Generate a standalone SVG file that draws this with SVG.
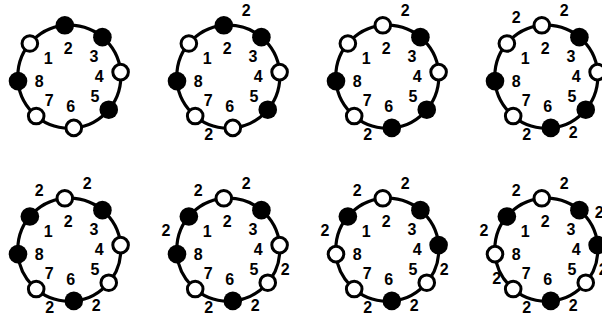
<svg xmlns="http://www.w3.org/2000/svg" width="602" height="320" viewBox="0 0 602 320">
<style>
.ring{fill:none;stroke:#000;stroke-width:3.2}
.f{fill:#000}
.o{fill:#fff;stroke:#000;stroke-width:3}
text{font-family:"Liberation Sans",Arial,sans-serif;font-weight:bold;font-size:16px;text-anchor:middle;fill:#000}
</style>
<rect width="602" height="320" fill="#fff"/>
<g id="connectors">
<circle class="ring" cx="69.3" cy="76.6" r="51.5"/>
<circle class="ring" cx="228.3" cy="76.6" r="51.5"/>
<circle class="ring" cx="387.3" cy="76.6" r="51.5"/>
<circle class="ring" cx="546.3" cy="76.6" r="51.5"/>
<circle class="ring" cx="69.3" cy="249.6" r="51.5"/>
<circle class="ring" cx="228.3" cy="249.6" r="51.5"/>
<circle class="ring" cx="387.3" cy="249.6" r="51.5"/>
<circle class="ring" cx="546.3" cy="249.6" r="51.5"/>
<g id="edge-labels">
<g transform="translate(228.3,76.6)"><text x="18" y="-60.2">2</text><text x="-19.5" y="63.8">2</text></g>
<g transform="translate(387.3,76.6)"><text x="18" y="-60.2">2</text><text x="-19.5" y="63.8">2</text></g>
<g transform="translate(546.3,76.6)"><text x="-30" y="-53.7">2</text><text x="18" y="-60.2">2</text><text x="-19.5" y="63.8">2</text><text x="27" y="61.5">2</text></g>
<g transform="translate(69.3,249.6)"><text x="-30" y="-53.7">2</text><text x="18" y="-60.2">2</text><text x="-19.5" y="63.8">2</text><text x="27" y="61.5">2</text></g>
<g transform="translate(228.3,249.6)"><text x="-30" y="-53.7">2</text><text x="18" y="-60.2">2</text><text x="-62.3" y="-13.8">2</text><text x="57" y="25.3">2</text><text x="-19.5" y="63.8">2</text><text x="27" y="61.5">2</text></g>
<g transform="translate(387.3,249.6)"><text x="-30" y="-53.7">2</text><text x="18" y="-60.2">2</text><text x="-62.3" y="-13.8">2</text><text x="57" y="25.3">2</text><text x="-19.5" y="63.8">2</text><text x="27" y="61.5">2</text></g>
<g transform="translate(546.3,249.6)"><text x="-30" y="-53.7">2</text><text x="18" y="-60.2">2</text><text x="53" y="-31.2">2</text><text x="-62.3" y="-13.8">2</text><text x="-49.6" y="34.5">2</text><text x="57" y="25.3">2</text><text x="-19.5" y="63.8">2</text><text x="27" y="61.5">2</text></g>
</g>
</g>
<defs>
<g id="nums">
<text x="-21" y="-12.5">1</text><text x="-1" y="-23.1">2</text><text x="24.7" y="-14.8">3</text><text x="30" y="5.2">4</text><text x="25.7" y="25.2">5</text><text x="1.4" y="35.2">6</text><text x="-20" y="29.2">7</text><text x="-30" y="10.2">8</text>
</g>
</defs>
<g id="panel1" transform="translate(69.3,76.6)">
<circle class="o" cx="-39.45" cy="-33.10" r="7.8"/><circle class="f" cx="-4.49" cy="-51.30" r="9.3"/><circle class="f" cx="33.10" cy="-39.45" r="9.3"/><circle class="o" cx="51.30" cy="-4.49" r="7.8"/><circle class="f" cx="39.45" cy="33.10" r="9.3"/><circle class="o" cx="4.49" cy="51.30" r="7.8"/><circle class="o" cx="-33.10" cy="39.45" r="7.8"/><circle class="f" cx="-51.30" cy="4.49" r="9.3"/>
<use href="#nums"/>
</g>
<g id="panel2" transform="translate(228.3,76.6)">
<circle class="o" cx="-39.45" cy="-33.10" r="7.8"/><circle class="f" cx="-4.49" cy="-51.30" r="9.3"/><circle class="f" cx="33.10" cy="-39.45" r="9.3"/><circle class="o" cx="51.30" cy="-4.49" r="7.8"/><circle class="f" cx="39.45" cy="33.10" r="9.3"/><circle class="o" cx="4.49" cy="51.30" r="7.8"/><circle class="o" cx="-33.10" cy="39.45" r="7.8"/><circle class="f" cx="-51.30" cy="4.49" r="9.3"/>
<use href="#nums"/>
</g>
<g id="panel3" transform="translate(387.3,76.6)">
<circle class="o" cx="-39.45" cy="-33.10" r="7.8"/><circle class="o" cx="-4.49" cy="-51.30" r="7.8"/><circle class="f" cx="33.10" cy="-39.45" r="9.3"/><circle class="o" cx="51.30" cy="-4.49" r="7.8"/><circle class="f" cx="39.45" cy="33.10" r="9.3"/><circle class="f" cx="4.49" cy="51.30" r="9.3"/><circle class="o" cx="-33.10" cy="39.45" r="7.8"/><circle class="f" cx="-51.30" cy="4.49" r="9.3"/>
<use href="#nums"/>
</g>
<g id="panel4" transform="translate(546.3,76.6)">
<circle class="o" cx="-39.45" cy="-33.10" r="7.8"/><circle class="o" cx="-4.49" cy="-51.30" r="7.8"/><circle class="f" cx="33.10" cy="-39.45" r="9.3"/><circle class="o" cx="51.30" cy="-4.49" r="7.8"/><circle class="f" cx="39.45" cy="33.10" r="9.3"/><circle class="f" cx="4.49" cy="51.30" r="9.3"/><circle class="o" cx="-33.10" cy="39.45" r="7.8"/><circle class="f" cx="-51.30" cy="4.49" r="9.3"/>
<use href="#nums"/>
</g>
<g id="panel5" transform="translate(69.3,249.6)">
<circle class="f" cx="-39.45" cy="-33.10" r="9.3"/><circle class="o" cx="-4.49" cy="-51.30" r="7.8"/><circle class="f" cx="33.10" cy="-39.45" r="9.3"/><circle class="o" cx="51.30" cy="-4.49" r="7.8"/><circle class="o" cx="39.45" cy="33.10" r="7.8"/><circle class="f" cx="4.49" cy="51.30" r="9.3"/><circle class="o" cx="-33.10" cy="39.45" r="7.8"/><circle class="f" cx="-51.30" cy="4.49" r="9.3"/>
<use href="#nums"/>
</g>
<g id="panel6" transform="translate(228.3,249.6)">
<circle class="f" cx="-39.45" cy="-33.10" r="9.3"/><circle class="o" cx="-4.49" cy="-51.30" r="7.8"/><circle class="f" cx="33.10" cy="-39.45" r="9.3"/><circle class="o" cx="51.30" cy="-4.49" r="7.8"/><circle class="o" cx="39.45" cy="33.10" r="7.8"/><circle class="f" cx="4.49" cy="51.30" r="9.3"/><circle class="o" cx="-33.10" cy="39.45" r="7.8"/><circle class="f" cx="-51.30" cy="4.49" r="9.3"/>
<use href="#nums"/>
</g>
<g id="panel7" transform="translate(387.3,249.6)">
<circle class="f" cx="-39.45" cy="-33.10" r="9.3"/><circle class="o" cx="-4.49" cy="-51.30" r="7.8"/><circle class="f" cx="33.10" cy="-39.45" r="9.3"/><circle class="f" cx="51.30" cy="-4.49" r="9.3"/><circle class="o" cx="39.45" cy="33.10" r="7.8"/><circle class="f" cx="4.49" cy="51.30" r="9.3"/><circle class="o" cx="-33.10" cy="39.45" r="7.8"/><circle class="o" cx="-51.30" cy="4.49" r="7.8"/>
<use href="#nums"/>
</g>
<g id="panel8" transform="translate(546.3,249.6)">
<circle class="f" cx="-39.45" cy="-33.10" r="9.3"/><circle class="o" cx="-4.49" cy="-51.30" r="7.8"/><circle class="f" cx="33.10" cy="-39.45" r="9.3"/><circle class="f" cx="51.30" cy="-4.49" r="9.3"/><circle class="o" cx="39.45" cy="33.10" r="7.8"/><circle class="f" cx="4.49" cy="51.30" r="9.3"/><circle class="o" cx="-33.10" cy="39.45" r="7.8"/><circle class="o" cx="-51.30" cy="4.49" r="7.8"/>
<use href="#nums"/>
</g>
</svg>
